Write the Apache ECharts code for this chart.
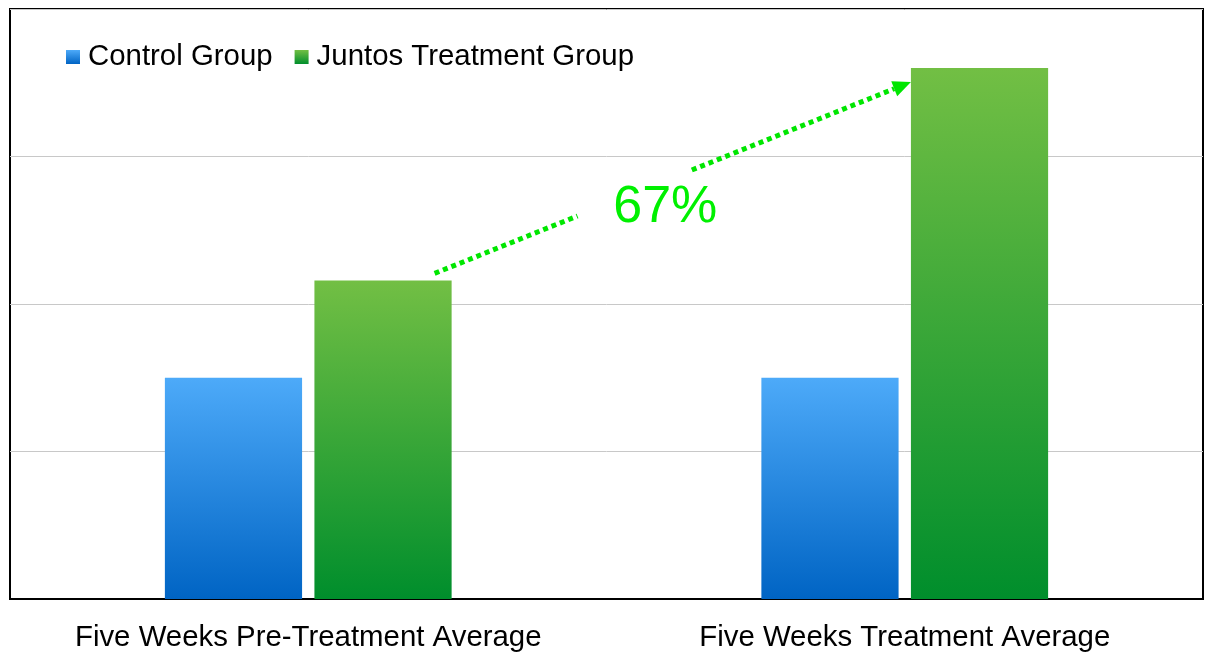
<!DOCTYPE html>
<html>
<head>
<meta charset="utf-8">
<script src="https://cdn.jsdelivr.net/npm/echarts@6/dist/echarts.min.js"></script>
<style>html,body{margin:0;padding:0;background:#fff;}#c{width:1207px;height:654px;}</style>
</head>
<body>
<div id="c"></div>
<script>
var categories = ['Five Weeks Pre-Treatment Average', 'Five Weeks Treatment Average'];
var seriesNames = ['Control Group', 'Juntos Treatment Group'];
var controlValues = [1.5, 1.5];
var juntosValues = [2.16, 3.6];
var changeLabel = '67%';

var FONT = "'Liberation Sans', Arial, Helvetica, sans-serif";
var blueGrad = new echarts.graphic.LinearGradient(0, 0, 0, 1, [
  {offset: 0, color: '#4DAAF9'}, {offset: 1, color: '#0064C4'}]);
var greenGrad = new echarts.graphic.LinearGradient(0, 0, 0, 1, [
  {offset: 0, color: '#72BF44'}, {offset: 1, color: '#008E2C'}]);

var chart = echarts.init(document.getElementById('c'), null, {renderer: 'canvas'});
var option = {
  animation: false,
  backgroundColor: '#ffffff',
  grid: {left: 10, right: 4, top: 9, bottom: 55, show: true, borderColor: '#000', borderWidth: 2, backgroundColor: 'transparent'},
  legend: {
    left: 61, top: 36, icon: 'rect', itemWidth: 14, itemHeight: 14, itemGap: 22,
    textStyle: {fontFamily: FONT, fontSize: 29.4, lineHeight: 32, color: '#000', padding: [0, 0, 0, 3]},
    data: seriesNames
  },
  xAxis: {
    type: 'category', data: categories,
    axisLine: {show: true, lineStyle: {color: '#000', width: 2}},
    axisTick: {show: false},
    axisLabel: {interval: 0, hideOverlap: false, fontFamily: FONT, fontSize: 29.4, color: '#000', margin: 24}
  },
  yAxis: {
    type: 'value', min: 0, max: 4, interval: 1,
    axisLabel: {show: false}, axisLine: {show: false}, axisTick: {show: false},
    splitLine: {lineStyle: {color: '#C8C8C8', width: 1}}
  },
  series: [
    {name: seriesNames[0], type: 'bar', data: controlValues, barWidth: '23%', barGap: '9%', itemStyle: {color: blueGrad}},
    {name: seriesNames[1], type: 'bar', data: juntosValues, barWidth: '23%', barGap: '9%', itemStyle: {color: greenGrad}}
  ]
};
chart.setOption(option);

// Arrow annotation computed from the chart's own scales
var p0c = chart.convertToPixel({gridIndex: 0}, [0, juntosValues[0]]);
var p1c = chart.convertToPixel({gridIndex: 0}, [1, juntosValues[1]]);
var band = chart.convertToPixel({gridIndex: 0}, [1, 0])[0] - chart.convertToPixel({gridIndex: 0}, [0, 0])[0];
var bw = band * 0.23, gap = bw * 0.09;
var g0Center = p0c[0] + (bw + gap) / 2;
var g1Center = p1c[0] + (bw + gap) / 2;
var sx = g0Center + bw / 2 - 17, sy = p0c[1] - 7;
var ex = g1Center - bw / 2, ey = p1c[1] + 14;
var dx = ex - sx, dy = ey - sy, L = Math.sqrt(dx * dx + dy * dy);
var ux = dx / L, uy = dy / L;
var headLen = 18, headHalf = 8;
var bx = ex - ux * headLen, by = ey - uy * headLen;
var px = -uy, py = ux;
function pt(t) { return [sx + dx * t, sy + dy * t]; }
var a = pt(0), b = pt(0.30), c = pt(0.54);
var lineStyle = {stroke: '#00E600', lineWidth: 5, lineDash: [5, 4]};
var tPos = pt(0.48);
chart.setOption({
  graphic: [
    {type: 'line', shape: {x1: a[0], y1: a[1], x2: b[0], y2: b[1]}, style: lineStyle, z: 100},
    {type: 'line', shape: {x1: c[0], y1: c[1], x2: bx, y2: by}, style: lineStyle, z: 100},
    {type: 'polygon', shape: {points: [[ex, ey], [bx + px * headHalf, by + py * headHalf], [bx - px * headHalf, by - py * headHalf]]}, style: {fill: '#00E600'}, z: 100},
    {type: 'text', x: tPos[0] + 2, y: tPos[1] + 26, z: 100,
      style: {text: changeLabel, fill: '#00F000', font: '52px ' + FONT, align: 'center', verticalAlign: 'middle'}}
  ]
});
</script>
</body>
</html>
